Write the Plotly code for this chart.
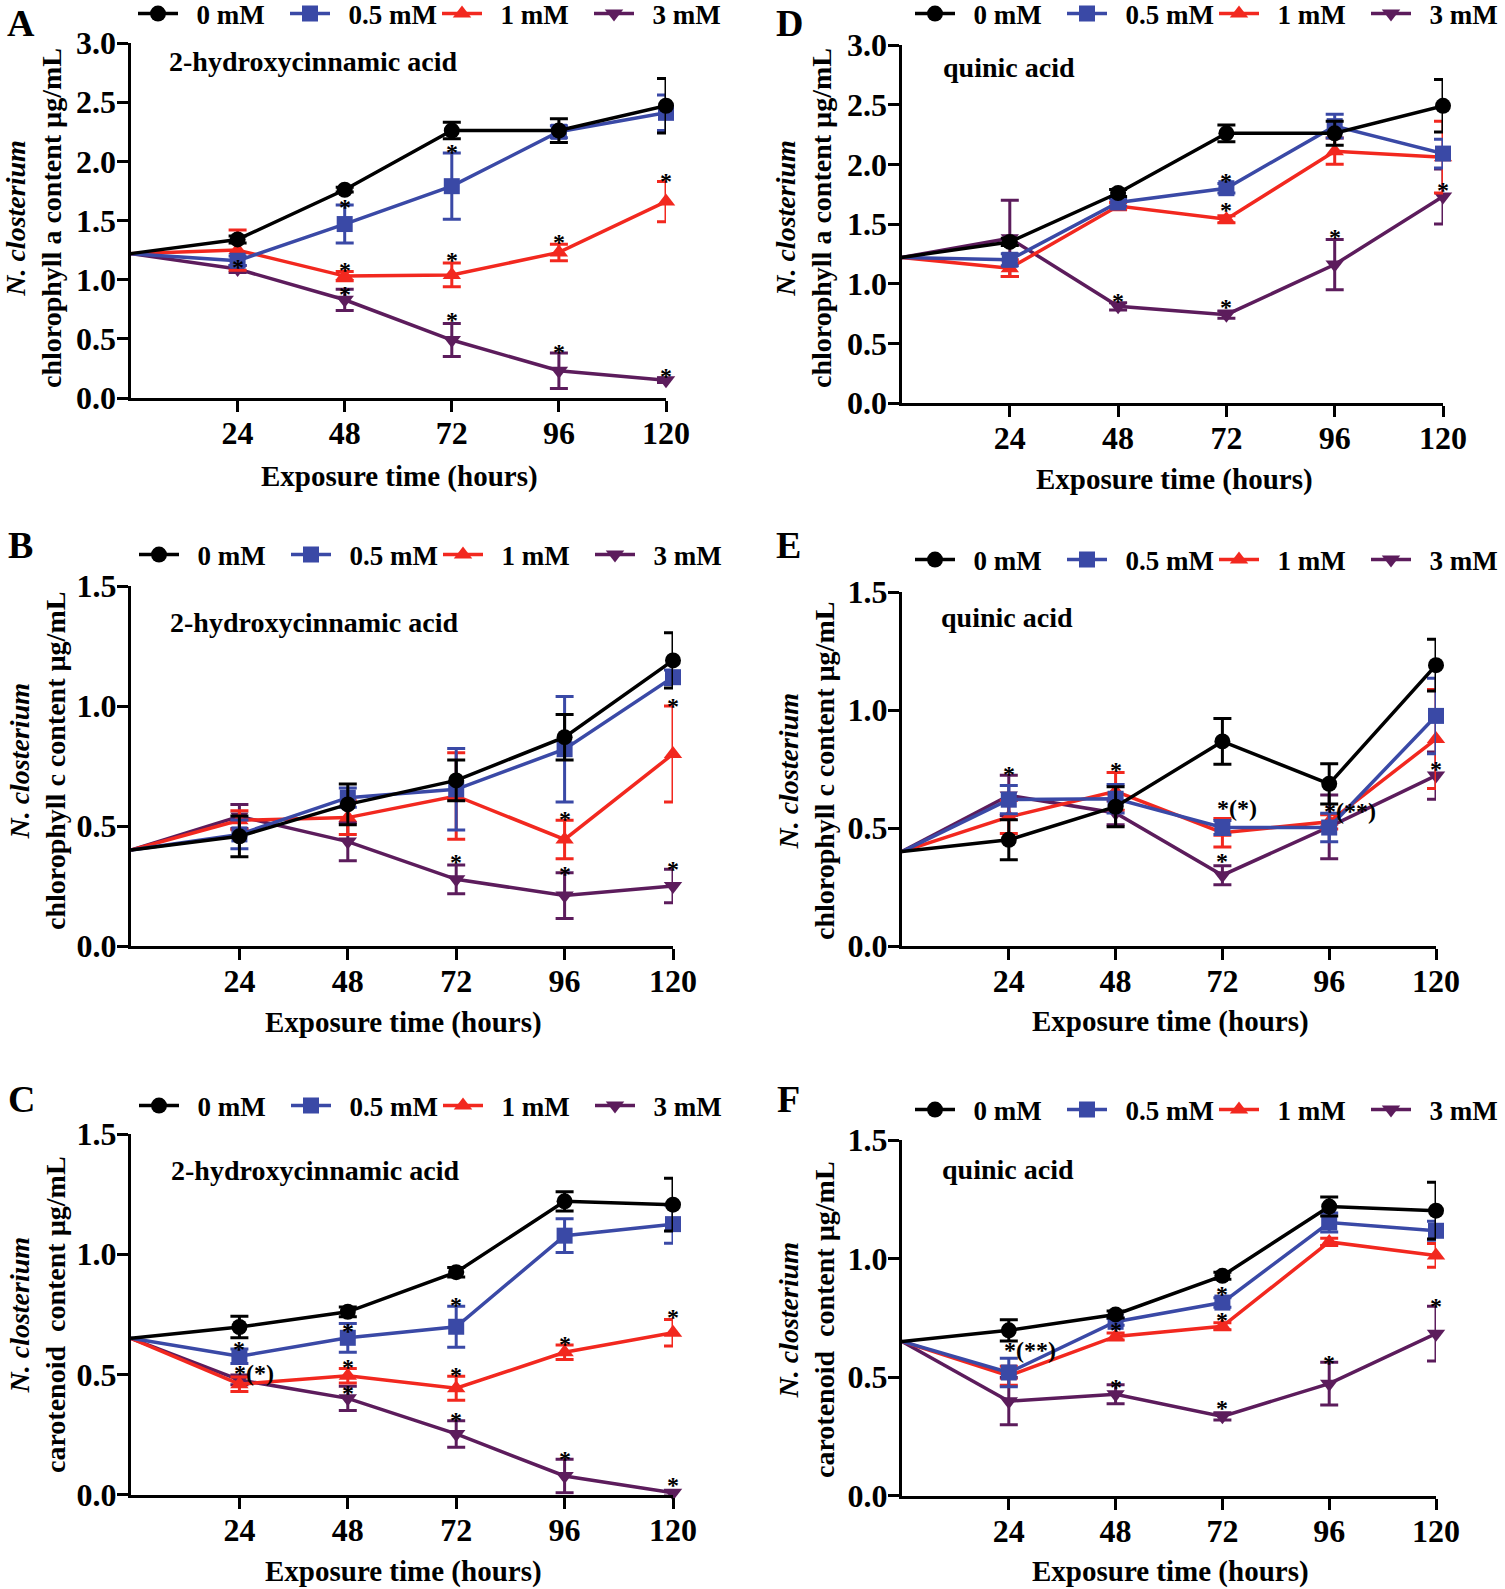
import plotly.graph_objects as go

W, H = 1505, 1589
FONT = "Liberation Serif"

times = [0, 24, 48, 72, 96, 120]
series_names = ["0 mM", "0.5 mM", "1 mM", "3 mM"]
series_colors = ["#000000", "#3A49A6", "#F2281F", "#5C1C5C"]
series_symbols = ["circle", "square", "triangle-up", "triangle-down"]
x_ticks = [24, 48, 72, 96, 120]

# Panel A: chlorophyll a, 2-hydroxycinnamic acid
A_vals = [
    [1.22, 1.34, 1.76, 2.26, 2.26, 2.47],
    [1.22, 1.16, 1.47, 1.79, 2.25, 2.41],
    [1.22, 1.25, 1.03, 1.04, 1.23, 1.66],
    [1.22, 1.09, 0.83, 0.49, 0.23, 0.15],
]
A_errs = [
    [0.03, 0.02, 0.07, 0.10, 0.23],
    [0.04, 0.16, 0.28, 0.05, 0.15],
    [0.17, 0.04, 0.10, 0.07, 0.17],
    [0.03, 0.09, 0.14, 0.15, 0.02],
]
# Panel D: chlorophyll a, quinic acid
D_vals = [
    [1.22, 1.35, 1.76, 2.26, 2.26, 2.49],
    [1.22, 1.20, 1.68, 1.80, 2.32, 2.09],
    [1.22, 1.13, 1.65, 1.54, 2.11, 2.06],
    [1.22, 1.38, 0.81, 0.74, 1.16, 1.73],
]
D_errs = [
    [0.03, 0.03, 0.07, 0.10, 0.22],
    [0.05, 0.03, 0.04, 0.10, 0.12],
    [0.07, 0.03, 0.03, 0.11, 0.30],
    [0.32, 0.03, 0.03, 0.21, 0.23],
]
# Panel B: chlorophyll c, 2-hydroxycinnamic acid
B_vals = [
    [0.40, 0.457, 0.59, 0.69, 0.87, 1.19],
    [0.40, 0.465, 0.618, 0.653, 0.82, 1.12],
    [0.40, 0.524, 0.535, 0.625, 0.444, 0.80],
    [0.40, 0.54, 0.435, 0.278, 0.21, 0.25],
]
B_errs = [
    [0.085, 0.085, 0.085, 0.095, 0.115],
    [0.06, 0.04, 0.17, 0.22, 0.03],
    [0.04, 0.07, 0.18, 0.08, 0.20],
    [0.05, 0.08, 0.06, 0.095, 0.07],
]
# Panel E: chlorophyll c, quinic acid
E_vals = [
    [0.40, 0.45, 0.59, 0.867, 0.687, 1.19],
    [0.40, 0.62, 0.624, 0.502, 0.502, 0.975],
    [0.40, 0.547, 0.655, 0.48, 0.526, 0.877],
    [0.40, 0.638, 0.564, 0.30, 0.505, 0.722],
]
E_errs = [
    [0.085, 0.085, 0.097, 0.085, 0.11],
    [0.06, 0.06, 0.03, 0.06, 0.16],
    [0.07, 0.08, 0.06, 0.03, 0.21],
    [0.085, 0.05, 0.04, 0.135, 0.10],
]
# Panel C: carotenoid, 2-hydroxycinnamic acid
C_vals = [
    [0.65, 0.697, 0.76, 0.925, 1.22, 1.206],
    [0.65, 0.575, 0.652, 0.698, 1.077, 1.125],
    [0.65, 0.459, 0.494, 0.442, 0.592, 0.673],
    [0.65, 0.477, 0.40, 0.252, 0.077, 0.007],
]
C_errs = [
    [0.045, 0.02, 0.02, 0.04, 0.11],
    [0.03, 0.06, 0.085, 0.07, 0.08],
    [0.03, 0.03, 0.05, 0.03, 0.055],
    [0.02, 0.05, 0.055, 0.07, 0.01],
]
# Panel F: carotenoid, quinic acid
F_vals = [
    [0.65, 0.697, 0.764, 0.927, 1.219, 1.202],
    [0.65, 0.519, 0.733, 0.814, 1.152, 1.117],
    [0.65, 0.505, 0.671, 0.714, 1.07, 1.013],
    [0.65, 0.398, 0.427, 0.334, 0.472, 0.683],
]
F_errs = [
    [0.045, 0.015, 0.015, 0.04, 0.12],
    [0.06, 0.015, 0.02, 0.04, 0.04],
    [0.04, 0.015, 0.015, 0.015, 0.05],
    [0.10, 0.04, 0.015, 0.09, 0.115],
]

# significance marks (x, y, text)
A_marks = [(24, 1.15, "*"), (48, 1.66, "*"), (48, 1.12, "*"), (48, 0.92, "*"),
           (72, 2.12, "*"), (72, 1.21, "*"), (72, 0.70, "*"), (96, 1.36, "*"),
           (96, 0.43, "*"), (120, 1.88, "*"), (120, 0.23, "*")]
D_marks = [(48, 0.895, "*"), (72, 1.90, "*"), (72, 1.66, "*"), (72, 0.85, "*"),
           (96, 1.43, "*"), (120, 1.83, "*")]
B_marks = [(72, 0.37, "*"), (96, 0.55, "*"), (96, 0.32, "*"), (120, 1.02, "*"),
           (120, 0.34, "*")]
E_marks = [(24, 0.75, "*"), (48, 0.765, "*"), (72, 0.605, "*(*)"), (72, 0.38, "*"),
           (96, 0.595, "*(**)"), (120, 0.77, "*")]
C_marks = [(24, 0.625, "*"), (24, 0.525, "*(*)"), (48, 0.70, "*"), (48, 0.55, "*"),
           (48, 0.445, "*"), (72, 0.81, "*"), (72, 0.52, "*"), (72, 0.33, "*"),
           (96, 0.645, "*"), (96, 0.17, "*"), (120, 0.76, "*"), (120, 0.06, "*")]
F_marks = [(24, 0.635, "*(**)"), (48, 0.72, "*"), (48, 0.48, "*"), (72, 0.87, "*"),
           (72, 0.76, "*"), (72, 0.39, "*"), (96, 0.58, "*"), (120, 0.82, "*")]

chem_A = "2-hydroxycinnamic acid"
chem_D = "quinic acid"
ytitle_a = "<i>N. closterium</i><br>chlorophyll a content µg/mL"
ytitle_c = "<i>N. closterium</i><br>chlorophyll c content µg/mL"
ytitle_car = "<i>N. closterium</i><br>carotenoid\u00a0 content µg/mL"
xtitle = "Exposure time (hours)"

# layout geometry in pixels (positions only)
panels = [
    dict(letter="A", vals=A_vals, errs=A_errs, marks=A_marks, chem=chem_A, ytitle=ytitle_a, ymax=3.0,
         x0=130.5, x120=666, y0=398, ytop=43, letter_xy=(21, 0), chem_xy=(167, 62),
         xt_xy=(399, 476), yt_xy=(34, 218), leg_xy=(133, 14)),
    dict(letter="D", vals=D_vals, errs=D_errs, marks=D_marks, chem=chem_D, ytitle=ytitle_a, ymax=3.0,
         x0=901.5, x120=1443, y0=403, ytop=45, letter_xy=(789, 0), chem_xy=(941, 68),
         xt_xy=(1174, 480), yt_xy=(804, 218), leg_xy=(910, 14)),
    dict(letter="B", vals=B_vals, errs=B_errs, marks=B_marks, chem=chem_A, ytitle=ytitle_c, ymax=1.5,
         x0=131, x120=673, y0=946, ytop=586, letter_xy=(20, 522), chem_xy=(168, 622),
         xt_xy=(403, 1022), yt_xy=(37, 761), leg_xy=(134, 555)),
    dict(letter="E", vals=E_vals, errs=E_errs, marks=E_marks, chem=chem_D, ytitle=ytitle_c, ymax=1.5,
         x0=902, x120=1436, y0=946, ytop=592, letter_xy=(788, 522), chem_xy=(939, 618),
         xt_xy=(1170, 1021), yt_xy=(806, 771), leg_xy=(910, 560)),
    dict(letter="C", vals=C_vals, errs=C_errs, marks=C_marks, chem=chem_A, ytitle=ytitle_car, ymax=1.5,
         x0=131, x120=673, y0=1494.5, ytop=1134, letter_xy=(21, 1076), chem_xy=(169, 1170),
         xt_xy=(403, 1571), yt_xy=(37, 1315), leg_xy=(134, 1106)),
    dict(letter="F", vals=F_vals, errs=F_errs, marks=F_marks, chem=chem_D, ytitle=ytitle_car, ymax=1.5,
         x0=902, x120=1436, y0=1495.5, ytop=1140, letter_xy=(788, 1076), chem_xy=(940, 1169),
         xt_xy=(1170, 1571), yt_xy=(806, 1320), leg_xy=(910, 1110)),
]


def fx(px):
    return px / W


def fy(py):
    return 1 - py / H


fig = go.Figure()
layout = dict(width=W, height=H, margin=dict(l=0, r=0, t=0, b=0, autoexpand=False),
              paper_bgcolor="white", plot_bgcolor="white", annotations=[])
bold = dict(family=FONT, color="black", weight="bold")
pad = "\u00a0\u00a0"

for i, p in enumerate(panels):
    k = "" if i == 0 else str(i + 1)
    xa, ya = "x" + k, "y" + k
    leg = "legend" + k
    layout["xaxis" + k] = dict(
        domain=[fx(p["x0"]), fx(p["x120"])], range=[0, 120], anchor=ya,
        tickvals=x_ticks, ticktext=[str(t) for t in x_ticks],
        showline=True, linewidth=3, linecolor="black", ticks="outside",
        ticklen=11, tickwidth=3, tickcolor="black", showgrid=False, zeroline=False,
        tickfont=dict(size=32, **bold), ticklabelstandoff=-6, automargin=False)
    yt = [j * 0.5 for j in range(int(p["ymax"] / 0.5) + 1)]
    layout["yaxis" + k] = dict(
        domain=[fy(p["y0"]), fy(p["ytop"])], range=[0, p["ymax"]], anchor=xa,
        tickvals=yt, ticktext=["%.1f" % v for v in yt],
        showline=True, linewidth=3, linecolor="black", ticks="outside",
        ticklen=11, tickwidth=3, tickcolor="black", showgrid=False, zeroline=False,
        tickfont=dict(size=32, **bold), ticklabelstandoff=-6, automargin=False)
    layout[leg] = dict(
        x=fx(p["leg_xy"][0]), y=fy(p["leg_xy"][1]), xanchor="left", yanchor="middle",
        orientation="h", font=dict(size=27, **bold), bgcolor="rgba(0,0,0,0)",
        itemwidth=40, entrywidth=97, borderwidth=0)
    for s in reversed(range(4)):
        vals, errs = p["vals"][s], p["errs"][s]
        c = series_colors[s]
        fig.add_trace(go.Scatter(
            x=times[:2], y=vals[:2], mode="lines", line=dict(color=c, width=3.5),
            xaxis=xa, yaxis=ya, showlegend=False, hoverinfo="skip", cliponaxis=False))
        fig.add_trace(go.Scatter(
            x=times[1:], y=vals[1:], mode="lines+markers", name=pad + series_names[s],
            line=dict(color=c, width=3.5),
            marker=dict(symbol=series_symbols[s], size=16, color=c),
            error_y=dict(type="data", array=errs, symmetric=True, color=c, thickness=3, width=9),
            xaxis=xa, yaxis=ya, legend=leg, legendrank=s + 1, cliponaxis=False))
    ann = layout["annotations"]
    ann.append(dict(text=p["letter"], x=fx(p["letter_xy"][0]), y=fy(p["letter_xy"][1]),
                    xref="paper", yref="paper", xanchor="center", yanchor="top",
                    showarrow=False, font=dict(size=38, **bold)))
    ann.append(dict(text=p["chem"], x=fx(p["chem_xy"][0]), y=fy(p["chem_xy"][1]),
                    xref="paper", yref="paper", xanchor="left", yanchor="middle",
                    showarrow=False, font=dict(size=28, **bold)))
    ann.append(dict(text=xtitle, x=fx(p["xt_xy"][0]), y=fy(p["xt_xy"][1]),
                    xref="paper", yref="paper", xanchor="center", yanchor="middle",
                    showarrow=False, font=dict(size=29, **bold)))
    ann.append(dict(text=p["ytitle"], x=fx(p["yt_xy"][0]), y=fy(p["yt_xy"][1]),
                    xref="paper", yref="paper", xanchor="center", yanchor="middle",
                    textangle=-90, showarrow=False, font=dict(size=28, **bold)))
    for (mx, my, mt) in p["marks"]:
        if mt == "*":
            ann.append(dict(text=mt, x=mx, y=my, xref=xa, yref=ya, xanchor="center",
                            yanchor="middle", yshift=-5, showarrow=False,
                            font=dict(size=24, **bold)))
        else:
            ann.append(dict(text=mt, x=mx, y=my, xref=xa, yref=ya, xanchor="left",
                            xshift=-7, yanchor="middle", yshift=-5, showarrow=False,
                            font=dict(size=24, **bold)))

fig.update_layout(**layout)
fig.write_html("out.html", config={"displayModeBar": False},
               post_script="document.body.style.margin='0px';")
